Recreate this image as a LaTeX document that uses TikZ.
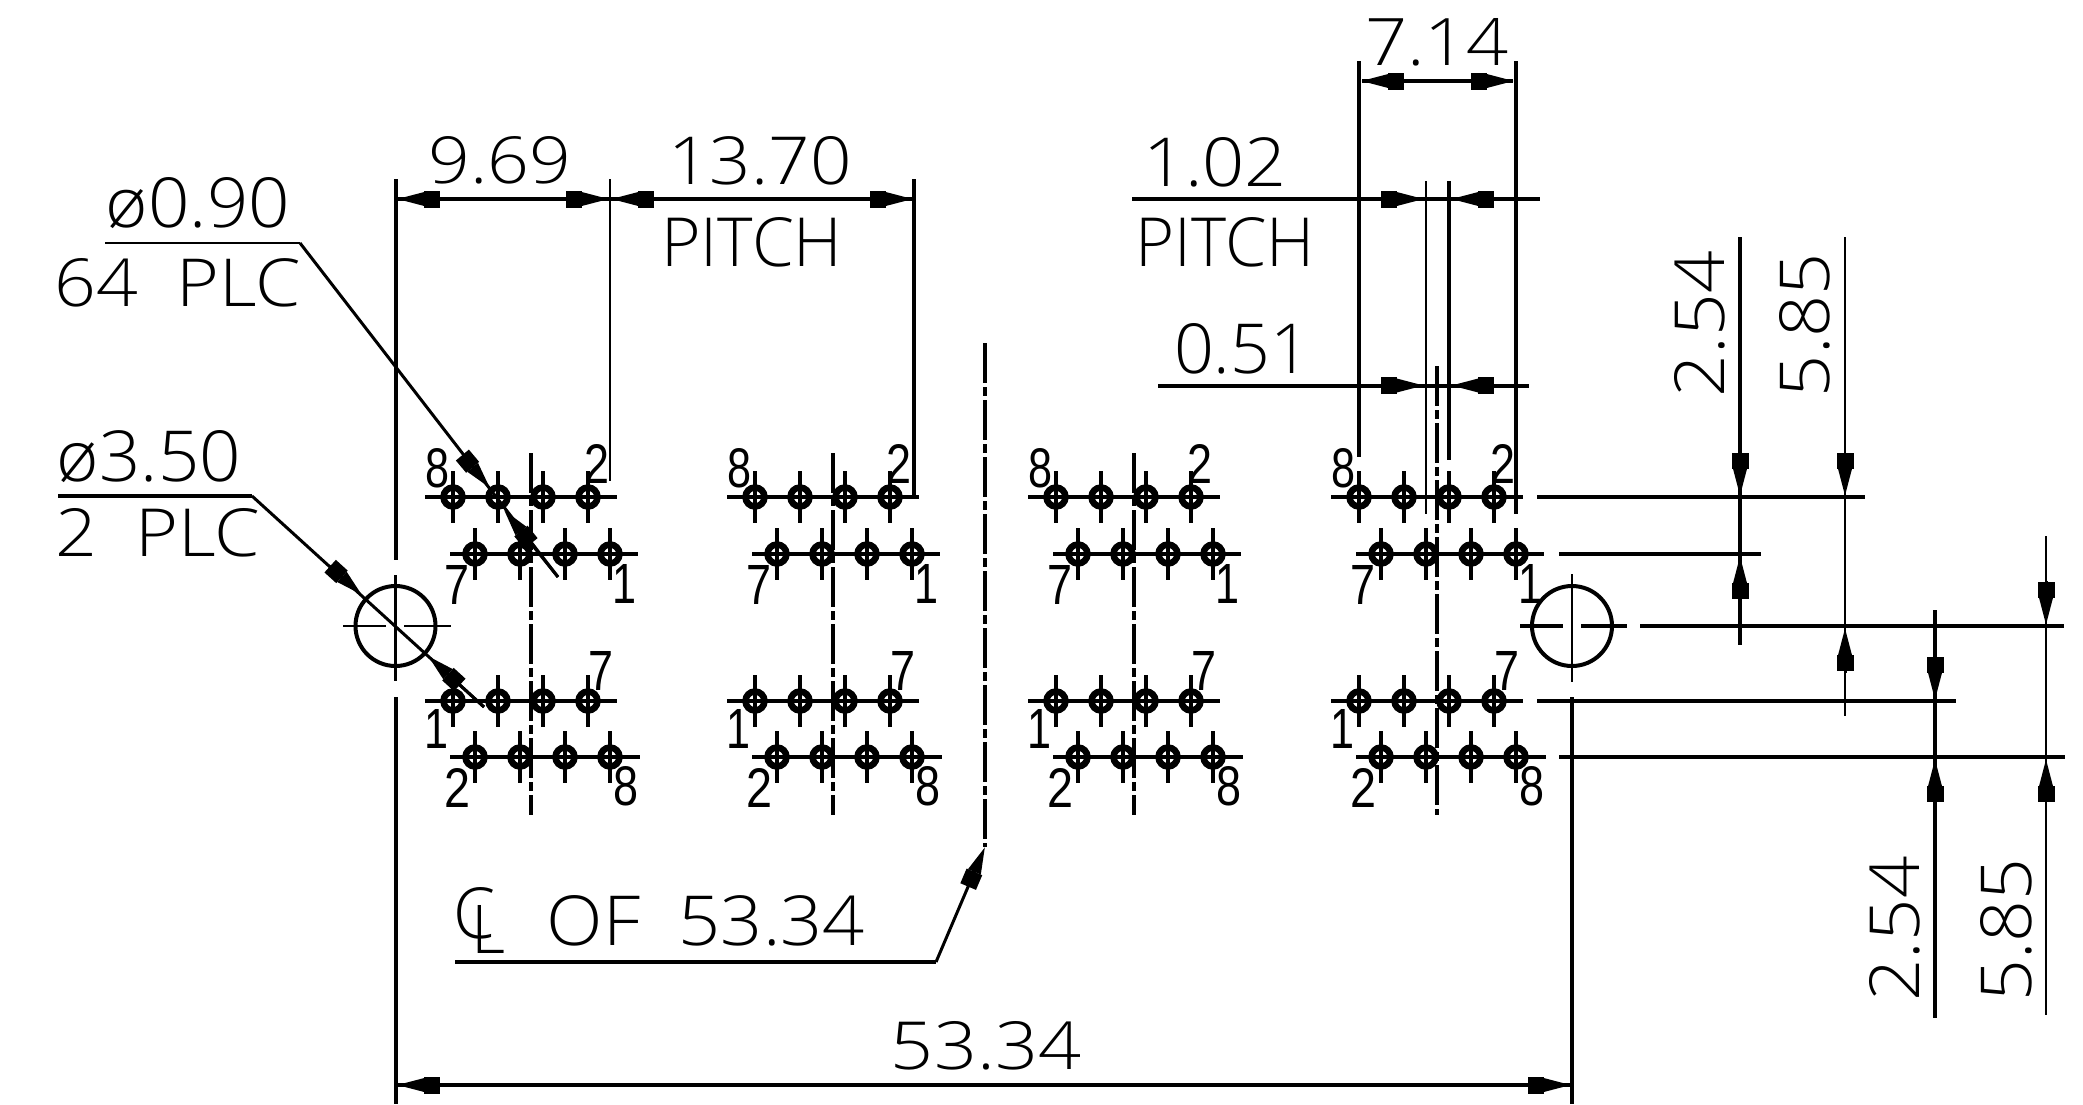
\documentclass[tikz,border=0pt]{standalone}
\usepackage{fontspec}
\usepackage{graphicx}
\setmainfont{Open Sans Light}
\newfontfamily\smallfont{Liberation Sans}
\usetikzlibrary{arrows.meta}
\tikzset{
  thk/.style={line width=4pt},
  thn/.style={line width=2.6pt},
  arr/.style={line width=3pt,-{Rectangle[length=16pt,width=17pt,sep=0pt]Triangle[length=27pt,width=13pt]}},
  ctr/.style={line width=3.5pt,dash pattern=on 40pt off 4pt on 9pt off 4pt},
  lab/.style={inner sep=0pt,outer sep=0pt,text=black}
}
\newcommand{\cad}[7][0]{\node[lab,rotate=#1] (#2) at (#3,#4) {\resizebox{#5pt}{#6pt}{#7}};}
\newcommand{\pin}[5]{\node[lab] (#1) at (#2,#3) {\resizebox{#4pt}{39pt}{\smallfont #5}};}
\begin{document}
\begin{tikzpicture}[x=1pt,y=-1pt]
\useasboundingbox (0,0) rectangle (2083,1104);
\fill[white] (0,0) rectangle (2083,1104);

% connector groups
\foreach \dx in {0,302,603,906}{
  \foreach \ry/\ox/\xa/\xb in {497/453/-28/164, 554/475/-25/163, 701/453/-28/164, 757/475/-25/165}{
    \draw[thk] ({\ox+\dx+\xa},\ry) -- ({\ox+\dx+\xb},\ry);
    \foreach \k in {0,45,90,135}{
      \draw[line width=6.5pt] ({\ox+\dx+\k},\ry) circle[radius=9.5pt];
      \draw[thk] ({\ox+\dx+\k},\ry-26) -- ({\ox+\dx+\k},\ry+26);
    }
  }
  \pin{eA\dx}{437+\dx}{468}{24}{8}
  \pin{twA\dx}{597+\dx}{464}{25}{2}
  \pin{svA\dx}{457+\dx}{585}{25}{7}
  \pin{onA\dx}{624+\dx}{584}{24}{1}
  \pin{onB\dx}{436+\dx}{729}{24}{1}
  \pin{svB\dx}{601+\dx}{671}{25}{7}
  \pin{twB\dx}{457+\dx}{788}{26}{2}
  \pin{eB\dx}{626+\dx}{786}{25}{8}
}
\foreach \cx/\ty in {531/453,833/453,1134/453,1437/366}{
  \draw[ctr] (\cx,\ty) -- (\cx,815);
}

% mid centre line and its callout
\draw[ctr] (985,343) -- (985,847);
\draw[thk] (455,962) -- (936,962);
\draw[arr] (936,962) -- (985,847);
\cad{clC}{474}{913}{42}{51}{C}
\cad{clL}{489}{929}{34}{48}{L}
\cad{of}{706}{921}{318}{50}{OF\ \ 53.34}

% mounting holes
\draw[thk] (395.5,626) circle[radius=40pt];
\draw[thk] (1572,626) circle[radius=40pt];
\draw[thn] (343,626) -- (386,626) (404,626) -- (451,626);
\draw[thk] (1520,626) -- (1563,626) (1581,626) -- (1627,626);
\draw[thk] (395.5,179) -- (395.5,560);
\draw[thn] (395.5,575) -- (395.5,681);
\draw[thk] (395.5,697) -- (395.5,1104);
\draw[thn] (1572,574) -- (1572,682);
\draw[thk] (1572,697) -- (1572,1104);

% leaders
\draw[thn] (105,243) -- (300,243);
\draw[line width=3pt] (300,243) -- (558,577);
\draw[arr] (464,457) -- (490,488);
\draw[arr] (558,577) -- (504,510);
\cad{nineA}{198}{203}{184}{50}{ø0.90}
\cad{plcA}{178}{283}{246}{48}{64\ \ PLC}
\draw[thk] (58,496) -- (252,496);
\draw[line width=3pt] (252,496) -- (484,707);
\draw[arr] (330,566) -- (362,595);
\draw[arr] (484,707) -- (428,656);
\cad{thrA}{149}{457}{184}{51}{ø3.50}
\cad{plcB}{158}{533}{205}{48}{2\ \ PLC}

% top left dimensions
\draw[thn] (610,179) -- (610,481);
\draw[thk] (914,179) -- (914,497);
\draw[thk] (395.5,199) -- (914,199);
\draw[arr] (441,199) -- (397,199);
\draw[arr] (567,199) -- (609,199);
\draw[arr] (656,199) -- (611,199);
\draw[arr] (870,199) -- (913,199);
\cad{dimA}{500}{160}{143}{47}{9.69}
\cad{dimB}{760}{161}{183}{48}{13.70}
\cad{pitchA}{752}{242}{181}{49}{PITCH}

% top right dimensions
\draw[thk] (1359,61) -- (1359,457);
\draw[thk] (1516,61) -- (1516,514);
\draw[thn] (1426,181) -- (1426,514);
\draw[thk] (1449,181) -- (1449,460);
\draw[thk] (1362,81) -- (1513,81);
\draw[arr] (1402,81) -- (1361,81);
\draw[arr] (1472,81) -- (1514,81);
\cad{dimC}{1437}{42}{144}{47}{7.14}
\draw[thk] (1132,199) -- (1540,199);
\draw[arr] (1380,199) -- (1424,199);
\draw[arr] (1495,199) -- (1451,199);
\cad{dimD}{1215}{162}{144}{49}{1.02}
\cad{pitchB}{1225}{242}{179}{49}{PITCH}
\draw[thk] (1158,385.5) -- (1529,385.5);
\draw[arr] (1380,385.5) -- (1424,385.5);
\draw[arr] (1492,385.5) -- (1451,385.5);
\cad{dimE}{1242}{349}{136}{50}{0.51}

% right extension lines
\draw[thk] (1537,497) -- (1865,497);
\draw[thk] (1559,554) -- (1761,554);
\draw[thk] (1640,626) -- (2064,626);
\draw[thk] (1537,701) -- (1956,701);
\draw[thk] (1559,757) -- (2065,757);

% right vertical dimensions
\draw[thk] (1740,237) -- (1740,645);
\draw[arr] (1740,455) -- (1740,496);
\draw[arr] (1740,598) -- (1740,556);
\draw[thn] (1845,237) -- (1845,716);
\draw[arr] (1845,455) -- (1845,496);
\draw[arr] (1845,673) -- (1845,628);
\draw[thk] (1935,610) -- (1935,1018);
\draw[arr] (1935,656) -- (1935,700);
\draw[arr] (1935,801) -- (1935,759);
\draw[thn] (2046,536) -- (2046,1015);
\draw[arr] (2046,581) -- (2046,625);
\draw[arr] (2046,801) -- (2046,759);
\cad[90]{dimF}{1700}{324}{146}{50}{2.54}
\cad[90]{dimG}{1805}{325}{144}{50}{5.85}
\cad[90]{dimH}{1895}{929}{145}{50}{2.54}
\cad[90]{dimI}{2006}{930}{143}{51}{5.85}

% overall dimension
\draw[thk] (395.5,1085) -- (1572,1085);
\draw[arr] (442,1085) -- (397,1085);
\draw[arr] (1527,1085) -- (1571,1085);
\cad{dimJ}{986}{1046}{190}{48}{53.34}
\end{tikzpicture}
\end{document}
